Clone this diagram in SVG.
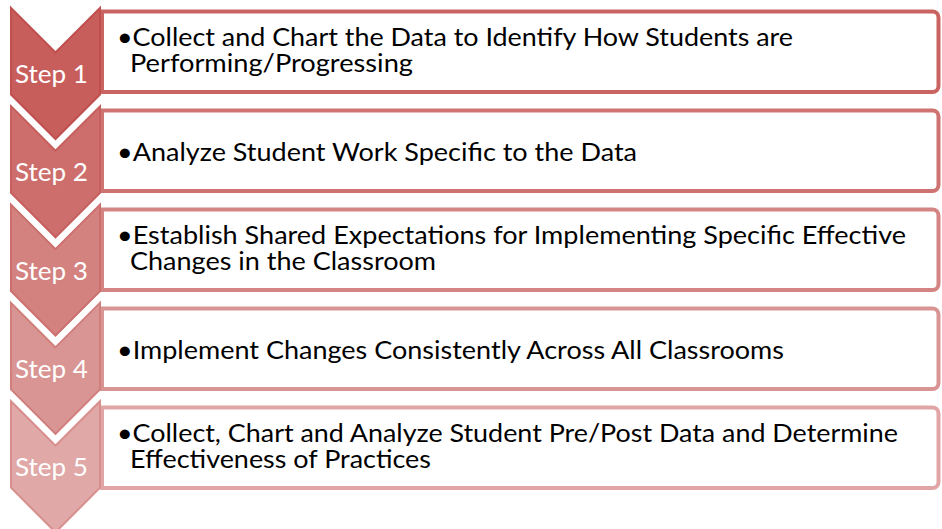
<svg xmlns="http://www.w3.org/2000/svg" width="942" height="529" viewBox="0 0 942 529">
<style>
.chev{stroke-width:2;stroke-linejoin:miter}
.box{fill:#fff;stroke-width:4}
.step{font-family:Lato,"Liberation Sans",sans-serif;font-size:25.5px;fill:#fff}
.txt{font-family:Lato,"Liberation Sans",sans-serif;font-size:25.5px;fill:#000}
</style>
<rect width="942" height="529" fill="#fff"/>
<g id="step1">
<path class="box" stroke="#C96462" d="M102,11.5 H932.5 A6,6 0 0 1 938.5,17.5 V86 A6,6 0 0 1 932.5,92 H102 Z"/>
<path class="chev" fill="#C85E5C" stroke="#C0504D" d="M11,8 L55.5,52.5 L100,8 L100,94.5 L55.5,139 L11,94.5 Z"/>
<text class="step" x="15" y="83" textLength="73" lengthAdjust="spacingAndGlyphs">Step 1</text>
<text class="txt" x="117" y="46" textLength="676" lengthAdjust="spacingAndGlyphs">•Collect and Chart the Data to Identify How Students are</text>
<text class="txt" x="130" y="72" textLength="283" lengthAdjust="spacingAndGlyphs">Performing/Progressing</text>
</g>
<g id="step2">
<path class="box" stroke="#CE7371" d="M102,110.5 H932.5 A6,6 0 0 1 938.5,116.5 V185 A6,6 0 0 1 932.5,191 H102 Z"/>
<path class="chev" fill="#CD6E6C" stroke="#C65F5D" d="M11,106.3 L55.5,150.8 L100,106.3 L100,192.8 L55.5,237.3 L11,192.8 Z"/>
<text class="step" x="15" y="181" textLength="73" lengthAdjust="spacingAndGlyphs">Step 2</text>
<text class="txt" x="117" y="161" textLength="520" lengthAdjust="spacingAndGlyphs">•Analyze Student Work Specific to the Data</text>
</g>
<g id="step3">
<path class="box" stroke="#D48482" d="M102,209.5 H932.5 A6,6 0 0 1 938.5,215.5 V284 A6,6 0 0 1 932.5,290 H102 Z"/>
<path class="chev" fill="#D38280" stroke="#CB6E6C" d="M11,204.6 L55.5,249.1 L100,204.6 L100,291.1 L55.5,335.6 L11,291.1 Z"/>
<text class="step" x="15" y="279.5" textLength="73" lengthAdjust="spacingAndGlyphs">Step 3</text>
<text class="txt" x="117" y="244" textLength="789" lengthAdjust="spacingAndGlyphs">•Establish Shared Expectations for Implementing Specific Effective</text>
<text class="txt" x="130" y="270" textLength="306" lengthAdjust="spacingAndGlyphs">Changes in the Classroom</text>
</g>
<g id="step4">
<path class="box" stroke="#D99593" d="M102,308.5 H932.5 A6,6 0 0 1 938.5,314.5 V383 A6,6 0 0 1 932.5,389 H102 Z"/>
<path class="chev" fill="#D99593" stroke="#D17F7D" d="M11,302.9 L55.5,347.4 L100,302.9 L100,389.4 L55.5,433.9 L11,389.4 Z"/>
<text class="step" x="15" y="377.5" textLength="73" lengthAdjust="spacingAndGlyphs">Step 4</text>
<text class="txt" x="117" y="359" textLength="667" lengthAdjust="spacingAndGlyphs">•Implement Changes Consistently Across All Classrooms</text>
</g>
<g id="step5">
<path class="box" stroke="#E0A5A4" d="M102,407.5 H932.5 A6,6 0 0 1 938.5,413.5 V482 A6,6 0 0 1 932.5,488 H102 Z"/>
<path class="chev" fill="#E0A8A7" stroke="#D78E8C" d="M11,401.2 L55.5,445.7 L100,401.2 L100,487.7 L55.5,532.2 L11,487.7 Z"/>
<text class="step" x="15" y="476" textLength="73" lengthAdjust="spacingAndGlyphs">Step 5</text>
<text class="txt" x="117" y="442" textLength="781" lengthAdjust="spacingAndGlyphs">•Collect, Chart and Analyze Student Pre/Post Data and Determine</text>
<text class="txt" x="130" y="468" textLength="301" lengthAdjust="spacingAndGlyphs">Effectiveness of Practices</text>
</g>
</svg>
